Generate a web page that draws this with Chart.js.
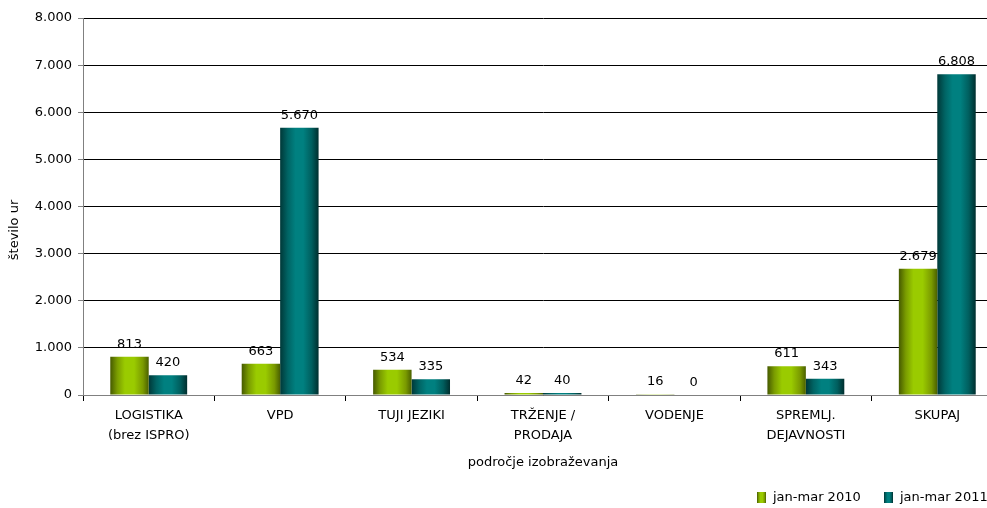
<!DOCTYPE html>
<html>
<head>
<meta charset="utf-8">
<script src="https://cdn.jsdelivr.net/npm/chart.js@4"></script>
<style>
  html, body { margin: 0; padding: 0; background: #fff; overflow: hidden; }
  #wrap { width: 1003px; height: 508px; }
</style>
</head>
<body>
<div id="wrap"><canvas id="chart" width="1003" height="508"></canvas></div>
<script>
const categories = [
    ['LOGISTIKA', '(brez ISPRO)'],
    'VPD',
    'TUJI JEZIKI',
    ['TRŽENJE /', 'PRODAJA'],
    'VODENJE',
    ['SPREMLJ.', 'DEJAVNOSTI'],
    'SKUPAJ'
];
const seriesNames = ['jan-mar 2010', 'jan-mar 2011'];
const values2010 = [813, 663, 534, 42, 16, 611, 2679];
const values2011 = [420, 5670, 335, 40, 0, 343, 6808];
const yTicks = [0, 1000, 2000, 3000, 4000, 5000, 6000, 7000, 8000];
const yTitle = 'število ur';
const xTitle = 'področje izobraževanja';

const FONT = 'DejaVu Sans';
const CAT_PCT = 0.585;

// cylinder-like shading for each series
const shades = [
    [[0, '#465a00'], [0.18, '#7a9c00'], [0.38, '#9acb00'], [0.62, '#9acb00'], [0.85, '#7a9a00'], [1, '#4a6000']],
    [[0, '#003838'], [0.2, '#006464'], [0.4, '#008080'], [0.6, '#008080'], [0.82, '#005e5e'], [1, '#002e2e']]
];
const flat = ['#8db600', '#007070'];

function fmt(v) {
    return String(v).replace(/\B(?=(\d{3})+(?!\d))/g, '.');
}

function barFill(ctx) {
    const chart = ctx.chart;
    const xs = chart.scales.x;
    if (!xs || !chart.chartArea) return flat[ctx.datasetIndex];
    const catW = xs.width / categories.length;
    const barW = catW * CAT_PCT / 2;
    const center = xs.getPixelForValue(ctx.dataIndex);
    const left = ctx.datasetIndex === 0 ? center - barW : center;
    const g = chart.ctx.createLinearGradient(left, 0, left + barW, 0);
    shades[ctx.datasetIndex].forEach(s => g.addColorStop(s[0], s[1]));
    return g;
}

const labelPlugin = {
    id: 'valueLabels',
    afterDatasetsDraw(chart) {
        const c = chart.ctx;
        c.save();
        c.font = '13px ' + FONT;
        c.fillStyle = '#000';
        c.textAlign = 'center';
        c.textBaseline = 'bottom';
        chart.data.datasets.forEach((ds, di) => {
            chart.getDatasetMeta(di).data.forEach((bar, i) => {
                c.fillText(fmt(ds.data[i]), bar.x, bar.y - 6);
            });
        });
        c.restore();
    }
};

// y title sits a little lower than the plot centre, legend in the bottom corner
const extrasPlugin = {
    id: 'extras',
    afterDraw(chart) {
        const c = chart.ctx;
        c.save();
        c.font = '13px ' + FONT;
        c.fillStyle = '#000';
        c.translate(15, 230);
        c.rotate(-Math.PI / 2);
        c.textAlign = 'center';
        c.textBaseline = 'middle';
        c.fillText(yTitle, 0, 0);
        c.restore();

        const xs = [757, 884];
        c.save();
        c.font = '13px ' + FONT;
        c.textBaseline = 'middle';
        c.textAlign = 'left';
        chart.data.datasets.forEach((ds, di) => {
            const x = xs[di];
            const g = c.createLinearGradient(x, 0, x + 9, 0);
            shades[di].forEach(s => g.addColorStop(s[0], s[1]));
            c.fillStyle = g;
            c.fillRect(x, 492, 9, 11);
            c.fillStyle = '#000';
            c.fillText(ds.label, x + 16, 498);
        });
        c.restore();
    }
};

new Chart(document.getElementById('chart'), {
    type: 'bar',
    data: {
        labels: categories,
        datasets: [
            { label: seriesNames[0], data: values2010, backgroundColor: barFill, borderWidth: 0 },
            { label: seriesNames[1], data: values2011, backgroundColor: barFill, borderWidth: 0 }
        ]
    },
    options: {
        responsive: false,
        animation: false,
        events: [],
        layout: { padding: { top: 18, right: 0, bottom: 0, left: 0 } },
        datasets: {
            bar: { barPercentage: 1, categoryPercentage: CAT_PCT }
        },
        plugins: {
            legend: { display: false },
            tooltip: { enabled: false }
        },
        scales: {
            x: {
                afterFit: s => { s.height = 113; },
                border: { color: '#808080', width: 1 },
                grid: { drawOnChartArea: false, offset: true, tickLength: 6, color: '#000', tickColor: '#000' },
                ticks: {
                    color: '#000',
                    font: { family: FONT, size: 13, lineHeight: 1.5 },
                    padding: 5,
                    maxRotation: 0,
                    autoSkip: false
                },
                title: {
                    display: true,
                    text: xTitle,
                    color: '#000',
                    font: { family: FONT, size: 13 },
                    padding: { top: 0, bottom: 38 }
                }
            },
            y: {
                min: 0,
                max: 8000,
                afterFit: s => { s.width = 83; },
                afterBuildTicks: s => { s.ticks = yTicks.map(v => ({ value: v })); },
                border: { color: '#808080', width: 1 },
                grid: { color: '#000', tickColor: '#808080', tickLength: 5, lineWidth: 1 },
                ticks: {
                    color: '#000',
                    font: { family: FONT, size: 13 },
                    padding: 6,
                    callback: v => fmt(v)
                },
                title: { display: false }
            }
        }
    },
    plugins: [labelPlugin, extrasPlugin]
});
</script>
</body>
</html>
